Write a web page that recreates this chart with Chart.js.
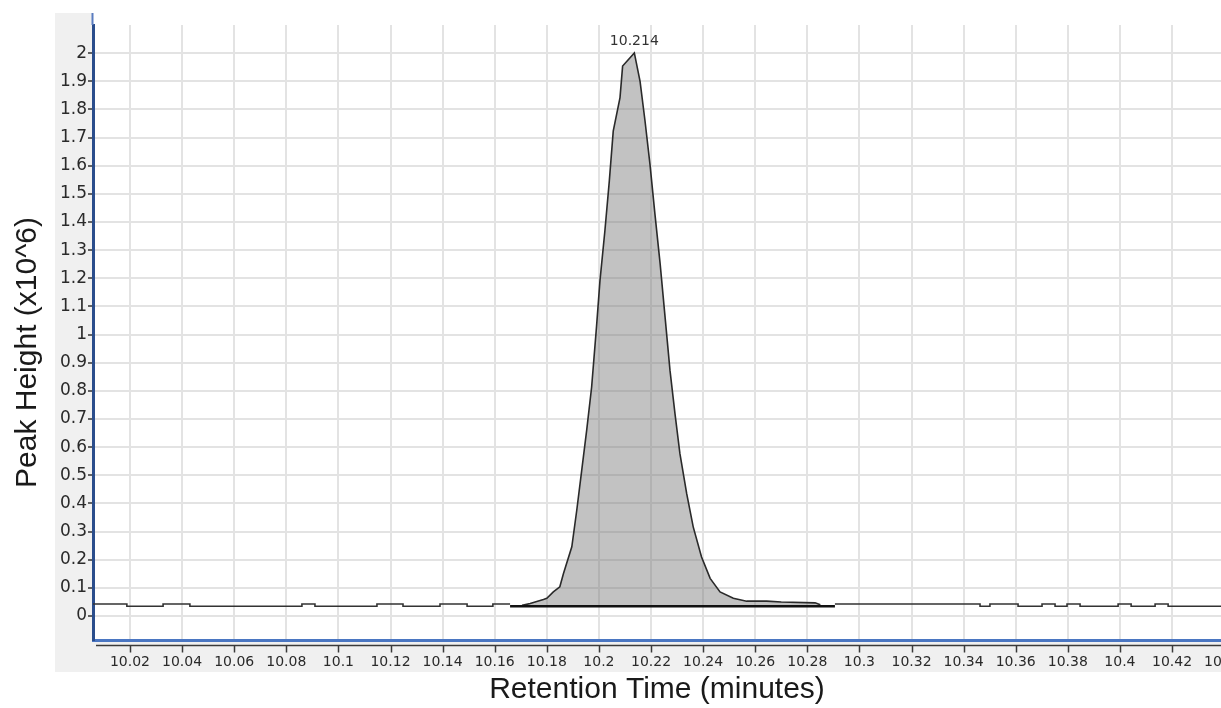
<!DOCTYPE html>
<html>
<head>
<meta charset="utf-8">
<script src="https://cdn.jsdelivr.net/npm/chart.js@4.4.1/dist/chart.umd.min.js"></script>
<style>
html,body{margin:0;padding:0;background:#fff;overflow:hidden}
#wrap{width:1221px;height:708px;position:relative}
</style>
</head>
<body>
<div id="wrap"><canvas id="c"></canvas></div>
<script>
// ---- tick labels ----
const xTickValues = [10.02,10.04,10.06,10.08,10.10,10.12,10.14,10.16,10.18,10.20,10.22,10.24,10.26,10.28,10.30,10.32,10.34,10.36,10.38,10.40,10.42,10.44];
const xTickLabels = ['10.02','10.04','10.06','10.08','10.1','10.12','10.14','10.16','10.18','10.2','10.22','10.24','10.26','10.28','10.3','10.32','10.34','10.36','10.38','10.4','10.42','10.44'];
const yTickValues = [0,0.1,0.2,0.3,0.4,0.5,0.6,0.7,0.8,0.9,1.0,1.1,1.2,1.3,1.4,1.5,1.6,1.7,1.8,1.9,2.0];
const yTickLabels = ['0','0.1','0.2','0.3','0.4','0.5','0.6','0.7','0.8','0.9','1','1.1','1.2','1.3','1.4','1.5','1.6','1.7','1.8','1.9','2'];

// ---- peak trace (retention time, height x10^6) ----
const peakTime   = [10.1705,10.1736,10.1787,10.1800,10.1825,10.1850,10.1864,10.1896,10.1915,10.1934,10.1953,10.1972,10.1991,10.2004,10.2023,10.2040,10.2055,10.2081,10.2091,10.2136,10.2158,10.2177,10.2196,10.2215,10.2235,10.2254,10.2273,10.2292,10.2311,10.2337,10.2362,10.2394,10.2427,10.2465,10.2516,10.2567,10.2644,10.2700,10.2830,10.2850];
const peakHeight = [0.038,0.045,0.059,0.063,0.086,0.104,0.151,0.246,0.376,0.518,0.660,0.813,1.030,1.191,1.369,1.546,1.723,1.842,1.954,2.001,1.900,1.759,1.606,1.429,1.252,1.062,0.872,0.719,0.577,0.435,0.317,0.210,0.134,0.086,0.063,0.053,0.053,0.050,0.047,0.040];

// ---- baseline noise (step segments: start time -> level) ----
const leftBaseTime   = [10.0000,10.0188,10.0327,10.0430,10.0860,10.0910,10.1148,10.1248,10.1390,10.1494,10.1593,10.1659];
const leftBaseHeight = [0.043,0.035,0.043,0.035,0.043,0.035,0.043,0.035,0.043,0.035,0.043,0.043];
const rightBaseTime   = [10.2906,10.3463,10.3501,10.3609,10.3701,10.3751,10.3797,10.3847,10.3993,10.4043,10.4135,10.4185,10.4500];
const rightBaseHeight = [0.043,0.035,0.043,0.035,0.043,0.035,0.043,0.035,0.043,0.035,0.043,0.035,0.035];

// ---- integration baseline ----
const integrationTime   = [10.1659,10.2906];
const integrationHeight = [0.035,0.035];

// ---- apex annotation ----
const apexTime = 10.2136;
const apexHeight = 2.001;
const apexLabel = '10.214';

const toPts = (xs, ys) => xs.map((x, i) => ({x: x, y: ys[i]}));

const FONT = "'Liberation Sans', Arial, sans-serif";
const TICKFONT = "'DejaVu Sans', Verdana, sans-serif";
Chart.defaults.font.family = FONT;
Chart.defaults.color = '#333';

const decor = {
  id: 'decor',
  beforeDraw(chart) {
    const {ctx, chartArea: ca, width} = chart;
    ctx.save();
    ctx.fillStyle = '#ffffff';
    ctx.fillRect(0, 0, chart.width, chart.height);
    ctx.fillStyle = '#f0f0f0';
    const L = ca.left - 38, T = ca.top - 12, B = ca.bottom + 32;
    ctx.fillRect(L, T, ca.left - L, B - T);
    ctx.fillRect(L, ca.bottom, width - L, B - ca.bottom);
    ctx.restore();
  },
  afterDatasetsDraw(chart) {
    const {ctx, scales} = chart;
    ctx.save();
    ctx.font = '14px ' + TICKFONT;
    ctx.fillStyle = '#333';
    ctx.textAlign = 'center';
    ctx.textBaseline = 'bottom';
    ctx.fillText(apexLabel, scales.x.getPixelForValue(apexTime), scales.y.getPixelForValue(apexHeight) - 5);
    ctx.restore();
  },
  afterDraw(chart) {
    const {ctx, chartArea: ca, width, scales} = chart;
    ctx.save();
    ctx.strokeStyle = '#5a7cc0';
    ctx.lineWidth = 2;
    ctx.beginPath();
    ctx.moveTo(ca.left - 0.5, ca.top - 12);
    ctx.lineTo(ca.left - 0.5, ca.top);
    ctx.stroke();
    const ry = ca.bottom + 5.5;
    ctx.strokeStyle = '#3a3a3a';
    ctx.lineWidth = 1.3;
    ctx.beginPath();
    ctx.moveTo(ca.left + 3, ry);
    ctx.lineTo(width, ry);
    ctx.stroke();
    ctx.lineWidth = 1.5;
    scales.x.ticks.forEach(t => {
      const px = Math.round(scales.x.getPixelForValue(t.value)) + 0.5;
      ctx.beginPath();
      ctx.moveTo(px, ry);
      ctx.lineTo(px, ry + 7);
      ctx.stroke();
    });
    const yt = chart.options.scales.y.title;
    ctx.font = '30px ' + FONT;
    ctx.fillStyle = '#1a1a1a';
    ctx.textAlign = 'center';
    ctx.textBaseline = 'middle';
    ctx.translate(28, (ca.top + ca.bottom) / 2 + 20);
    ctx.rotate(-Math.PI / 2);
    ctx.fillText(yt.text, 0, 0);
    ctx.restore();
  }
};

new Chart(document.getElementById('c'), {
  type: 'line',
  data: {
    datasets: [
      {
        data: toPts(integrationTime, integrationHeight),
        borderColor: '#111', borderWidth: 2.5, pointRadius: 0, fill: false
      },
      {
        data: toPts(peakTime, peakHeight),
        borderColor: '#2a2a2a', borderWidth: 1.6, pointRadius: 0, tension: 0,
        fill: {value: 0.035}, backgroundColor: 'rgba(110,110,110,0.42)'
      },
      {
        data: toPts(leftBaseTime, leftBaseHeight),
        borderColor: '#333', borderWidth: 1.6, pointRadius: 0, stepped: true, fill: false
      },
      {
        data: toPts(rightBaseTime, rightBaseHeight),
        borderColor: '#333', borderWidth: 1.6, pointRadius: 0, stepped: true, fill: false
      }
    ]
  },
  options: {
    responsive: true,
    maintainAspectRatio: false,
    animation: false,
    devicePixelRatio: 1,
    layout: {padding: {top: 25, right: 0, left: 0, bottom: 0}},
    plugins: {legend: {display: false}, tooltip: {enabled: false}},
    scales: {
      x: {
        type: 'linear',
        min: 10.0058,
        max: 10.4388,
        afterBuildTicks: s => { s.ticks = xTickValues.map(v => ({value: v})); },
        afterFit: s => { s.height = 68; s.paddingLeft = 0; s.paddingRight = 0; },
        ticks: {
          autoSkip: false, maxRotation: 0, padding: 14,
          color: '#2a2a2a', font: {size: 14, family: TICKFONT},
          callback: (v, i) => xTickLabels[i]
        },
        grid: {color: '#e3e3e3', lineWidth: 2, drawTicks: false},
        border: {display: true, color: '#4a76c2', width: 3},
        title: {display: true, text: 'Retention Time (minutes)', color: '#1a1a1a', font: {size: 30}, padding: {top: 0, bottom: 0}}
      },
      y: {
        type: 'linear',
        min: -0.085,
        max: 2.1,
        afterBuildTicks: s => { s.ticks = yTickValues.map(v => ({value: v})); },
        afterFit: s => { s.width = 93; },
        ticks: {
          padding: 1, color: '#2a2a2a', font: {size: 17, family: TICKFONT},
          callback: (v, i) => yTickLabels[i]
        },
        grid: {color: '#e3e3e3', lineWidth: 2, drawTicks: true, tickLength: 5, tickColor: '#333', tickWidth: 1.5},
        border: {display: true, color: '#2a4d8c', width: 3},
        title: {display: false, text: 'Peak Height (x10^6)'}
      }
    }
  },
  plugins: [decor]
});
</script>
</body>
</html>
